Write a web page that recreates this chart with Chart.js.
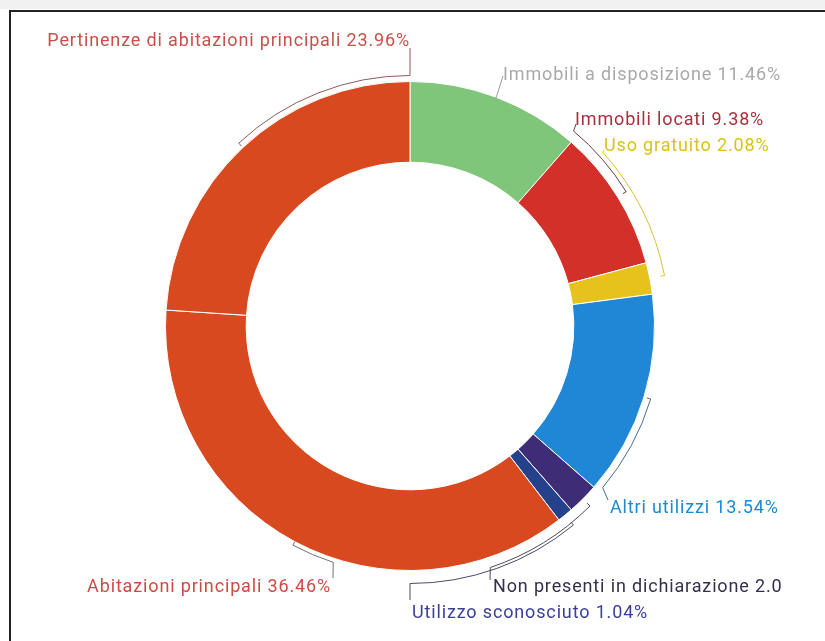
<!DOCTYPE html>
<html>
<head>
<meta charset="utf-8">
<script src="https://cdn.jsdelivr.net/npm/chart.js@4"></script>
<style>
  html, body { margin: 0; padding: 0; background: #ffffff; }
  body { width: 825px; height: 641px; position: relative; overflow: hidden; }
  #topband { position: absolute; left: 0; top: 0; width: 825px; height: 9px; background: #f1f1f1; }
  #frame { position: absolute; left: 9px; top: 10px; width: 830px; height: 650px;
           border-left: 2px solid #222; border-top: 2px solid #222; box-sizing: border-box; }
  #wrap { position: absolute; left: 0; top: 0; width: 786px; height: 641px; }
</style>
</head>
<body>
<div id="topband"></div>
<div id="frame"></div>
<div id="wrap"><canvas id="c" width="786" height="641"></canvas></div>
<script>
// Uso degli immobili: quote percentuali
const categories = [
  'Immobili a disposizione',
  'Immobili locati',
  'Uso gratuito',
  'Altri utilizzi',
  'Non presenti in dichiarazione',
  'Utilizzo sconosciuto',
  'Abitazioni principali',
  'Pertinenze di abitazioni principali'
];
const shares = [11.46, 9.38, 2.08, 13.54, 2.08, 1.04, 36.46, 23.96];

const sliceColors = ['#7fc67a', '#d3302a', '#e6c21c', '#1f87d6', '#3e2d76', '#25418b', '#d9491f', '#d9491f'];
const labelColors = ['#a9a9a9', '#a8303c', '#dcc11a', '#1a8bd2', '#33304d', '#3a3f98', '#cf4a45', '#c8504c'];
const leaderColors = ['#9a9a9a', '#6e3a3f', '#d8c030', '#40708e', '#4a4a5a', '#4a4a66', '#707070', '#8c5a58'];

// Placement of the outside labels: the curved leader runs from the middle
// of the slice to attachDeg (clockwise from 12 o'clock), gap px outside the ring,
// then a short straight segment to `end`; text sits at `text`. Offsets are from the ring centre.
const labelLayout = [
  { attachDeg: null, gap: 3,  end: [93, -250],  text: [93, -251],  align: 'left'  },
  { attachDeg: 40,   gap: 10, end: [166, -202], text: [165, -206], align: 'left'  },
  { attachDeg: 48,   gap: 15, end: [194, -176], text: [194, -180], align: 'left'  },
  { attachDeg: 130,  gap: 7,  end: [198, 174],  text: [200, 182],  align: 'left'  },
  { attachDeg: 161.6,gap: 10, end: [80, 254],   text: [83, 261],   align: 'left'  },
  { attachDeg: 180,  gap: 13, end: [0, 274],    text: [2, 287],    align: 'left'  },
  { attachDeg: 198,  gap: 4,  end: [-77, 252],  text: [-79, 261],  align: 'right' },
  { attachDeg: 360,  gap: 6,  end: [0, -278],   text: [0, -285],   align: 'right' }
];

const toRad = d => d * Math.PI / 180 - Math.PI / 2;

const bracketLabels = {
  id: 'bracketLabels',
  afterDatasetsDraw(chart) {
    const ctx = chart.ctx;
    const meta = chart.getDatasetMeta(0);
    meta.data.forEach((arc, i) => {
      const p = arc.getProps(['x', 'y', 'startAngle', 'endAngle', 'outerRadius'], true);
      const mid = (p.startAngle + p.endAngle) / 2;
      const L = labelLayout[i];
      const r = p.outerRadius + L.gap;
      const end = L.attachDeg === null ? mid : toRad(L.attachDeg);
      ctx.save();
      ctx.strokeStyle = leaderColors[i];
      ctx.lineWidth = 1;
      ctx.beginPath();
      ctx.moveTo(p.x + (r - 4) * Math.cos(mid), p.y + (r - 4) * Math.sin(mid));
      ctx.lineTo(p.x + r * Math.cos(mid), p.y + r * Math.sin(mid));
      if (end !== mid) ctx.arc(p.x, p.y, r, mid, end, end < mid);
      ctx.lineTo(p.x + L.end[0], p.y + L.end[1]);
      ctx.stroke();

      ctx.font = '18px Roboto';
      ctx.letterSpacing = '0.85px';
      ctx.fillStyle = labelColors[i];
      ctx.textAlign = L.align;
      ctx.textBaseline = 'middle';
      // labels running past the right edge lose their trailing characters
      let text = categories[i] + ' ' + shares[i].toFixed(2) + '%';
      const tx = p.x + L.text[0];
      if (L.align === 'left') {
        while (text.length > 1 && tx + ctx.measureText(text).width - 0.85 > chart.width) {
          text = text.slice(0, -1);
        }
      }
      ctx.fillText(text, tx, p.y + L.text[1]);
      ctx.restore();
    });
  }
};

new Chart(document.getElementById('c'), {
  type: 'doughnut',
  data: {
    labels: categories,
    datasets: [{
      data: shares,
      backgroundColor: sliceColors,
      borderColor: '#ffffff',
      borderWidth: 1
    }]
  },
  options: {
    responsive: false,
    animation: false,
    cutout: '67%',
    layout: { padding: { left: 165, right: 131, top: 81, bottom: 70 } },
    plugins: { legend: { display: false }, tooltip: { enabled: false } }
  },
  plugins: [bracketLabels]
});
</script>
</body>
</html>
